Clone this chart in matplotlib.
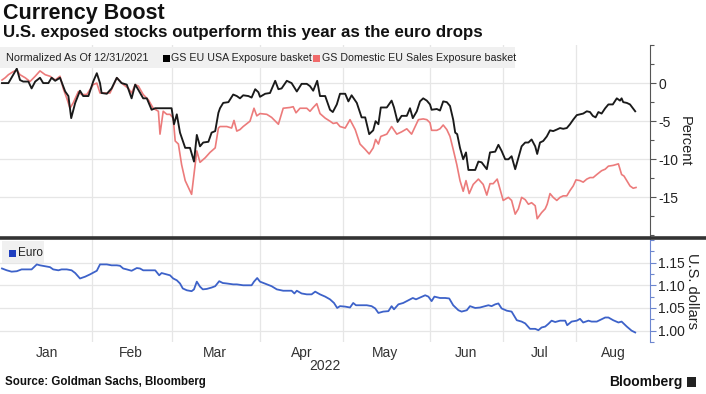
import matplotlib
matplotlib.use("Agg")
import matplotlib.pyplot as plt
from matplotlib.lines import Line2D
from matplotlib.patches import Rectangle

# x unit: trading-day position since 12/31/2021
usa_x = [0, 1.6, 2.8, 3.7, 4.5, 5.3, 6.6, 7.4, 8.3, 9.5, 10.3, 11.6, 12.4, 13.3, 14.5, 15.8,
         16.6, 17.3, 18.3, 19.5, 20.3, 21.6, 22.8, 23.7, 24.5, 24.9, 26.2, 27.4, 28.7, 29.9,
         31.2, 32.4, 33.3, 34.1, 35.3, 36.2, 37.4, 38.3, 39.5, 40.3, 41.6, 42.4, 43.0, 43.7,
         44.5, 45.8, 47.0, 48.0, 48.7, 49.5, 50.3, 51.6, 52.4, 53.3, 54.1, 54.5,
         55.3, 56.6, 57.8, 58.7, 59.5, 60.3, 61.6, 62.4, 63.3, 64.1, 64.5, 65.8, 67.0, 68.3,
         69.1, 69.9, 71.2, 72.4, 73.7, 74.9, 76.2, 77.0, 77.8, 78.8, 79.5, 80.8, 82.0, 82.7,
         83.7, 84.5, 85.8, 86.6, 87.4, 88.7, 89.9, 90.8, 91.8, 92.8, 93.4, 94.1, 94.7, 96.2,
         97.4, 98.0, 98.9, 99.9, 101.2, 102.0, 102.7, 103.7, 104.5, 105.3, 106.2, 107.0,
         107.4, 108.7, 109.5, 110.3, 111.2, 112.0, 112.8, 113.3, 113.8, 114.5, 115.3, 116.0,
         116.6, 117.8, 118.3, 119.1, 119.9, 121.2, 122.0, 123.3, 124.1, 124.9, 125.8, 126.6,
         127.4, 128.3, 129.1, 129.9, 130.8, 131.6, 132.4, 133.3, 133.8, 134.5, 135.3, 136.2,
         137.0, 137.8, 138.7, 139.5, 140.3, 141.2, 142.0, 142.8, 143.7, 144.5, 145.3, 146.2,
         147.0, 147.7, 148.4, 149.1, 149.9, 150.8, 151.6, 152.7, 153.7, 154.5, 154.9, 155.3,
         156.2, 157.0, 158.3]
usa_y = [0.0, 0.0, 1.1, 1.9, 0.4, 0.2, 0.2, -0.7, 0.2, 0.7, 0.0, 0.0, 0.7, 0.3, 0.7, -1.1,
         -1.7, -4.6, -2.6, -1.0, -1.7, -1.7, 0.2, 1.3, 0.0, -1.3, -1.4, -0.7, 0.7, 0.0,
         -0.2, -2.0, -0.2, -0.9, -2.0, -2.0, -3.5, -3.3, -3.3, -3.3, -3.3, -3.3, -5.4, -4.1,
         -6.5, -8.5, -8.5, -10.3, -6.8, -8.3, -7.8, -7.7, -6.5, -6.3, -3.9, -3.3,
         -2.6, -2.5, -1.5, -1.7, -2.0, -1.6, -1.7, -1.9, -0.8, -1.2, -1.8, -1.4, -1.3, 0.3,
         -0.8, -0.7, 0.3, 0.0, -1.1, -0.1, -0.1, -0.4, -1.0, 0.3, -1.7, -1.7, -3.5, -3.8,
         -2.8, -1.4, -1.4, -2.4, -1.6, -2.6, -4.5, -4.5, -6.7, -6.2, -5.0, -5.4, -3.2, -3.2,
         -2.3, -3.2, -5.1, -4.3, -4.3, -3.3, -4.6, -3.7, -2.4, -2.0, -2.3, -2.8,
         -3.5, -3.4, -3.6, -2.4, -2.5, -3.0, -4.8, -6.5, -6.7, -8.5, -10.0, -9.1,
         -11.4, -11.4, -11.4, -10.3, -10.4, -11.3, -9.1, -9.0, -8.1, -8.9, -10.0, -10.0,
         -9.6, -11.3, -9.8, -8.3, -7.8, -7.8, -7.4, -8.3, -9.3, -7.8, -7.6, -7.0,
         -6.2, -6.3, -6.1, -5.9, -6.0, -5.9, -5.4, -4.8, -4.2, -4.1, -4.0, -3.7,
         -3.8, -4.3, -4.5, -3.8, -4.0, -3.3, -2.8, -2.8, -2.0, -2.3, -2.0, -2.5,
         -2.6, -2.8, -3.7]

dom_x = [0, 0.8, 1.6, 2.8, 3.7, 4.5, 5.8, 7.0, 8.3, 9.5, 10.8, 12.0, 13.3, 14.5, 15.3, 16.2,
         17.0, 17.8, 19.1, 19.9, 21.2, 22.8, 23.7, 24.5, 25.8, 27.0, 28.7, 29.9, 31.6, 32.4,
         33.3, 34.1, 35.3, 36.6, 37.8, 39.1, 39.5, 40.3, 41.2, 42.0, 42.8, 43.3, 44.1, 44.9,
         45.8, 46.6, 47.4, 48.3, 48.7, 49.5, 50.8, 52.0, 53.3, 54.1, 54.5,
         54.9, 56.2, 57.4, 58.0, 58.7, 59.5, 60.3, 62.0, 63.0, 63.7, 64.5, 66.2, 67.4, 69.1,
         70.3, 72.0, 72.8, 73.5, 74.5, 76.2, 77.0, 77.8, 78.7, 79.5, 80.8, 82.0, 82.8, 83.7,
         84.5, 85.8, 87.0, 88.3, 89.5, 90.8, 91.8, 92.8, 93.4, 94.1, 94.7, 96.2, 97.4, 98.7,
         99.9, 101.2, 102.4, 104.1, 105.3, 106.2, 107.0,
         107.4, 108.7, 109.5, 110.3, 111.2, 112.0, 112.8, 113.7, 114.5, 115.3, 116.0, 116.8,
         117.8, 119.1, 120.3, 121.2, 122.0, 122.8, 123.8, 124.5, 125.3, 126.6, 127.4, 128.3,
         129.1, 129.9, 130.8, 131.6, 132.4, 133.3, 133.8, 134.9, 135.8, 136.3, 137.0, 137.8,
         138.7, 139.5, 140.3, 141.2, 142.0, 142.8, 143.5, 144.5, 145.3, 146.2, 147.0, 147.8,
         148.7, 149.9, 150.8, 151.6, 152.8, 154.1, 154.9, 155.5, 156.2, 157.0, 157.8, 158.5]
dom_y = [0.4, 0.7, 1.1, 1.5, 1.7, 1.1, 0.7, 0.2, 0.9, 1.6, 1.1, 0.9, 0.4, 0.9, -0.7, -2.0,
         -3.3, -2.6, -1.1, -1.5, -1.5, -0.2, 0.0, -1.3, -1.3, -1.3, 0.7, 0.0, -0.7, -1.3,
         -0.2, -0.4, -1.5, -2.2, -3.3, -3.7, -6.7, -3.7, -4.1, -4.1, -4.6, -7.6, -8.0, -10.7,
         -12.8, -13.7, -14.6, -10.7, -8.9, -10.4, -9.8, -9.1, -8.5, -5.9, -5.7,
         -5.7, -5.7, -5.9, -4.9, -6.3, -6.1, -5.7, -5.0, -3.3, -4.3, -4.0, -4.1, -4.5, -5.4,
         -3.3, -3.2, -3.1, -3.9, -3.3, -3.3, -3.7, -3.2, -2.7, -4.0, -4.6, -5.0, -5.3, -5.2,
         -5.7, -5.9, -4.8, -6.1, -8.0, -8.7, -9.3, -8.5, -7.4, -8.0, -7.0, -6.7, -5.7, -6.7,
         -6.4, -6.0, -6.7, -4.8, -4.7, -4.8, -5.2,
         -6.2, -6.2, -6.0, -5.5, -6.1, -7.0, -8.7, -10.7, -12.8, -14.2, -12.8, -14.5,
         -13.3, -12.6, -13.3, -14.7, -13.2, -13.2, -12.6, -13.9, -15.4, -15.0, -15.4, -17.2,
         -16.5, -15.0, -15.3, -15.9, -15.7, -16.1, -17.8, -17.0, -16.5, -15.9, -14.5, -15.0,
         -15.4, -15.0, -14.8, -14.8, -14.1, -13.5, -12.7, -12.8, -13.0, -12.6, -12.4, -12.4,
         -12.0, -11.5, -11.3, -10.9, -10.8, -10.6, -12.0, -12.2, -12.8, -13.5, -13.8, -13.7]

euro_x = [0, 1.2, 2.4, 3.7, 4.9, 6.2, 7.4, 8.7, 9.5, 10.8, 12.0, 12.8, 14.1, 14.9, 16.2, 17.4,
          18.3, 19.5, 20.8, 22.0, 23.7, 24.5, 26.2, 27.4, 28.7, 29.5, 30.3, 31.2, 32.4, 33.7,
          34.5, 35.3, 36.6, 38.3, 39.3, 39.9, 41.2, 42.0, 42.8, 43.7, 44.5, 45.2, 46.2, 47.4,
          48.0, 48.7, 49.5, 50.2, 51.2, 52.4, 53.3, 54.3, 55.2, 56.2, 57.8,
          58.7, 60.3, 62.4, 63.0, 63.8, 64.5, 66.2, 67.4, 68.7, 70.3, 72.4, 73.1, 73.7, 74.9,
          76.2, 77.4, 78.3, 79.5, 80.8, 82.0, 83.0, 83.8, 84.5, 85.8, 87.0, 87.8, 88.5, 89.9,
          91.2, 92.4, 93.3, 94.1, 95.3, 96.6, 97.4, 98.0, 99.1, 100.3, 101.6, 102.7, 103.5,
          104.5, 105.8, 106.6, 107.4, 108.1, 109.5, 110.8, 111.8, 112.8, 114.1, 114.9, 116.2,
          117.0, 118.3, 119.5, 120.8, 121.6, 122.4, 123.3, 124.1, 124.9, 126.2, 127.4, 128.7,
          129.9, 130.8, 132.0, 133.3, 134.1, 134.9, 135.8, 136.6, 137.4, 138.3, 139.5, 140.8,
          141.3, 142.4, 143.7, 144.5, 145.3, 146.6, 147.4, 148.7, 149.9, 150.8, 151.6, 152.8,
          154.1, 154.9, 156.2, 157.4, 158.3]
euro_y = [1.137, 1.133, 1.130, 1.131, 1.135, 1.135, 1.135, 1.146, 1.144, 1.142, 1.140, 1.135,
          1.133, 1.135, 1.135, 1.133, 1.127, 1.115, 1.119, 1.124, 1.132, 1.146, 1.146, 1.144,
          1.144, 1.143, 1.137, 1.135, 1.132, 1.138, 1.137, 1.133, 1.133, 1.133, 1.122, 1.127,
          1.124, 1.122, 1.115, 1.111, 1.104, 1.093, 1.089, 1.087, 1.091, 1.108, 1.097, 1.091,
          1.092, 1.095, 1.098, 1.109, 1.105, 1.104, 1.102,
          1.102, 1.100, 1.100, 1.108, 1.116, 1.108, 1.102, 1.098, 1.091, 1.088, 1.088, 1.082,
          1.088, 1.082, 1.080, 1.080, 1.086, 1.080, 1.075, 1.069, 1.061, 1.050, 1.054, 1.053,
          1.051, 1.061, 1.056, 1.056, 1.056, 1.054, 1.049, 1.039, 1.042, 1.043, 1.054, 1.047,
          1.058, 1.061, 1.067, 1.072, 1.069, 1.073, 1.078, 1.075, 1.065, 1.075, 1.072, 1.072,
          1.071, 1.056, 1.045, 1.042, 1.045, 1.054, 1.050, 1.051, 1.054, 1.056, 1.054, 1.058,
          1.060, 1.049, 1.044, 1.042, 1.023, 1.020, 1.016, 1.004, 1.004, 1.001, 1.007, 1.009,
          1.015, 1.022, 1.019, 1.022, 1.022, 1.012, 1.020, 1.022, 1.026, 1.018, 1.022, 1.020,
          1.020, 1.025, 1.029, 1.029, 1.023, 1.018, 1.020, 1.009, 1.000, 0.996]

month_labels = ["Jan", "Feb", "Mar", "Apr", "May", "Jun", "Jul", "Aug"]
month_label_pos = [11.25, 32.25, 53.25, 75, 95.75, 116, 134.5, 152.75]
month_starts = [22.5, 42.5, 64.5, 85.25, 107, 125.25, 143.5]
pct_ticks = [0, -5, -10, -15]
usd_ticks = [1.00, 1.05, 1.10, 1.15]

BLACK = "#1a1a1a"
RED = "#ec7b7b"
BLUE = "#3d62c9"
GRID = "#e6e6e6"
AXC = "#555555"
SANS = ["Liberation Sans", "DejaVu Sans"]

fig = plt.figure(figsize=(7.06, 3.94), dpi=100)
W, H = 706, 394


def frac(x0, y0, x1, y1):
    return [x0 / W, 1 - y1 / H, (x1 - x0) / W, (y1 - y0) / H]


ax1 = fig.add_axes(frac(0, 45, 650, 237))
ax2 = fig.add_axes(frac(0, 239, 650, 342))

ax1.plot(dom_x, dom_y, color=RED, lw=1.2, zorder=3)
ax1.plot(usa_x, usa_y, color=BLACK, lw=1.35, zorder=4)
ax2.plot(euro_x, euro_y, color=BLUE, lw=1.3, zorder=3)

ax1.set_ylim(-20.2, 5)
ax2.set_ylim(0.976, 1.202)

for ax in (ax1, ax2):
    ax.set_xlim(-0.5, 162)
    ax.set_facecolor("white")
    for s in ("top", "left", "bottom"):
        ax.spines[s].set_visible(False)
    ax.set_xticks(month_starts)
    ax.set_xticklabels([])
    ax.tick_params(axis="x", which="major", length=0)
    ax.grid(True, axis="both", which="major", color=GRID, lw=0.9, zorder=0)
    ax.yaxis.tick_right()
    ax.yaxis.set_label_position("right")

ax1.set_yticks(pct_ticks)
ax1.set_yticklabels(["0", "-5", "-10", "-15"])
ax1.set_yticks([5, 2.5, -2.5, -7.5, -12.5, -17.5, -20], minor=True)
ax1.spines["right"].set_color(AXC)
ax1.tick_params(axis="y", which="both", colors=AXC, labelcolor="#222222",
                labelsize=10, length=4, width=0.8, pad=2)
ax1.tick_params(axis="y", which="minor", length=3)
for t in ax1.get_yticklabels():
    t.set_family(SANS)
ax1.set_ylabel("Percent", rotation=270, fontsize=10.5, color="#222222",
               labelpad=10, family=SANS)

ax2.set_yticks(usd_ticks)
ax2.set_yticklabels(["1.00", "1.05", "1.10", "1.15"])
ax2.set_yticks([0.975, 1.025, 1.075, 1.125, 1.175, 1.2], minor=True)
ax2.spines["right"].set_color("#6d86cf")
ax2.tick_params(axis="y", which="both", colors="#6d86cf", labelcolor="#222222",
                labelsize=10, length=4, width=0.8, pad=2)
ax2.tick_params(axis="y", which="minor", length=3)
for t in ax2.get_yticklabels():
    t.set_family(SANS)
ax2.set_ylabel("U.S. dollars", rotation=270, fontsize=10.5, color="#222222",
               labelpad=10, family=SANS)

ax2.set_xticks(month_label_pos, minor=True)
ax2.set_xticklabels(month_labels, minor=True, fontsize=10, color="#333333", family=SANS)
ax2.tick_params(axis="x", which="minor", length=0, pad=3)
ax2.text(80.75, -0.235, "2022", transform=ax2.get_xaxis_transform(), ha="center",
         va="center", fontsize=10, color="#333333", family=SANS)

# separator between panels
fig.add_artist(Line2D([0, 1], [1 - 238 / H, 1 - 238 / H], color="#333333", lw=2.6))

# legend boxes
fig.add_artist(Rectangle((0, 1 - 68 / H), 515 / W, 21 / H, facecolor="#f0f0f0",
                         edgecolor="none", zorder=5))
ly = 1 - 58 / H
fig.text(6 / W, ly, "Normalized As Of 12/31/2021", fontsize=7.8, va="center",
         color="#222222", family=SANS, zorder=6)
fig.add_artist(Rectangle((163 / W, ly - 3.5 / H), 7 / W, 7 / H, facecolor="black",
                         edgecolor="none", zorder=6))
fig.text(171 / W, ly, "GS EU USA Exposure basket", fontsize=7.7, va="center",
         color="#222222", family=SANS, zorder=6)
fig.add_artist(Rectangle((313 / W, ly - 3.5 / H), 7 / W, 7 / H, facecolor="#f06a6a",
                         edgecolor="none", zorder=6))
fig.text(322 / W, ly, "GS Domestic EU Sales Exposure basket", fontsize=7.7, va="center",
         color="#222222", family=SANS, zorder=6)

fig.add_artist(Rectangle((2 / W, 1 - 263 / H), 42 / W, 22 / H, facecolor="#f0f0f0",
                         edgecolor="none", zorder=5))
ey = 1 - 253 / H
fig.add_artist(Rectangle((9 / W, ey - 3.5 / H), 7 / W, 7 / H, facecolor="#1f3fbf",
                         edgecolor="none", zorder=6))
fig.text(18 / W, ey, "Euro", fontsize=8.5, va="center", color="#222222",
         family=SANS, zorder=6)

# titles and footer
fig.text(3 / W, 1 - 13 / H, "Currency Boost", fontsize=15.5, fontweight="bold",
         va="center", family=SANS, color="#111111")
fig.text(3 / W, 1 - 33 / H, "U.S. exposed stocks outperform this year as the euro drops",
         fontsize=12.2, fontweight="bold", va="center", family=SANS, color="#111111")
fig.text(5 / W, 1 - 382 / H, "Source: Goldman Sachs, Bloomberg", fontsize=8.3,
         fontweight="bold", va="center", family=SANS, color="#111111")
fig.text(683 / W, 1 - 382 / H, "Bloomberg", fontsize=10, fontweight="bold",
         va="center", ha="right", family=SANS, color="#111111")
fig.add_artist(Rectangle((687 / W, 1 - 387 / H), 9 / W, 10 / H, facecolor="#222222",
                         edgecolor="none"))

fig.savefig("out.png", dpi=100)
